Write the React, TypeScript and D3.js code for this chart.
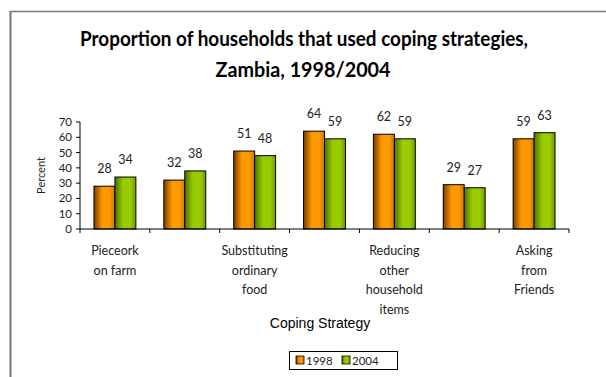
import React from "react";
import * as d3 from "d3";

const categories = [
  ["Pieceork", "on farm"],
  [],
  ["Substituting", "ordinary", "food"],
  [],
  ["Reducing", "other", "household", "items"],
  [],
  ["Asking", "from", "Friends"],
];
const series = ["1998", "2004"];
const values1998 = [28, 32, 51, 64, 62, 29, 59];
const values2004 = [34, 38, 48, 59, 59, 27, 63];
const yTicks = [0, 10, 20, 30, 40, 50, 60, 70];

export default function App() {
  const W = 606, H = 377;
  const left = 80, right = 569, top = 122, bottom = 229;
  const idx = categories.map((_, i) => i);
  const x0 = d3.scaleBand<number>().domain(idx).range([left, right]).paddingInner(0).paddingOuter(0);
  const bw = x0.bandwidth();
  const x1 = d3.scaleBand<string>().domain(series).range([bw * 0.2, bw * 0.8]);
  const y = d3.scaleLinear().domain([0, 70]).range([bottom, top]);
  const data = [values1998, values2004];
  const grads = ["gOrange", "gGreen"];
  const font = "Lato, 'Open Sans', sans-serif";
  return (
    <svg width={W} height={H} style={{ position: "absolute", left: 0, top: 0 }}>
      <defs>
        <linearGradient id="gOrange" x1="0" x2="1" y1="0" y2="0">
          <stop offset="0%" stopColor="#7a3c00" />
          <stop offset="40%" stopColor="#ff9900" />
          <stop offset="75%" stopColor="#ff9900" />
          <stop offset="100%" stopColor="#d07800" />
        </linearGradient>
        <linearGradient id="gGreen" x1="0" x2="1" y1="0" y2="0">
          <stop offset="0%" stopColor="#4d7300" />
          <stop offset="40%" stopColor="#99cc00" />
          <stop offset="75%" stopColor="#99cc00" />
          <stop offset="100%" stopColor="#6f9a00" />
        </linearGradient>
      </defs>
      <rect x={0} y={0} width={W} height={H} fill="#fff" />
      <line x1={10} y1={11.5} x2={W} y2={11.5} stroke="#777" strokeWidth={1.5} />
      <line x1={10.5} y1={11} x2={10.5} y2={H} stroke="#777" strokeWidth={2} />
      <text x={304} y={46} textAnchor="middle" fontFamily={font} fontWeight="bold" fontSize={21} fill="#000" textLength={448} lengthAdjust="spacingAndGlyphs">
        Proportion of households that used coping strategies,
      </text>
      <text x={303} y={77} textAnchor="middle" fontFamily={font} fontWeight="bold" fontSize={21} fill="#000" textLength={175} lengthAdjust="spacingAndGlyphs">
        Zambia, 1998/2004
      </text>
      {/* y axis */}
      <line x1={left} y1={top} x2={left} y2={bottom} stroke="#000" />
      {yTicks.map((t) => (
        <g key={t}>
          <line x1={left - 4} x2={left} y1={y(t)} y2={y(t)} stroke="#000" />
          <text x={left - 8} y={y(t) + 4} textAnchor="end" fontFamily={font} fontSize={11.5} fill="#222">
            {t}
          </text>
        </g>
      ))}
      <text transform={`translate(45,${(top + bottom) / 2}) rotate(-90)`} textAnchor="middle" fontFamily={font} fontSize={11} fill="#222">
        Percent
      </text>
      {/* bars */}
      {idx.map((i) => (
        <g key={i}>
          {series.map((s, j) => {
            const bx = (x0(i) as number) + (x1(s) as number);
            const v = data[j][i];
            return (
              <g key={s}>
                <rect x={bx} y={y(v)} width={x1.bandwidth()} height={bottom - y(v)} fill={`url(#${grads[j]})`} stroke="#000" strokeWidth={1} />
                <text x={bx + x1.bandwidth() / 2} y={y(v) - 13} textAnchor="middle" fontFamily={font} fontSize={12.5} fill="#222">
                  {v}
                </text>
              </g>
            );
          })}
        </g>
      ))}
      {/* x axis */}
      <line x1={left} y1={bottom} x2={right} y2={bottom} stroke="#000" />
      {d3.range(categories.length + 1).map((k) => {
        const xx = left + k * bw;
        return <line key={k} x1={xx} x2={xx} y1={bottom} y2={bottom + 4} stroke="#000" />;
      })}
      {categories.map((lines, i) =>
        lines.map((ln, k) => (
          <text key={`${i}-${k}`} x={(x0(i) as number) + bw / 2} y={255 + k * 19.5} textAnchor="middle" fontFamily={font} fontSize={12.5} fill="#222">
            {ln}
          </text>
        ))
      )}
      <text x={320} y={328} textAnchor="middle" fontFamily="'Liberation Sans', Arial, sans-serif" fontSize={14} fill="#000">
        Coping Strategy
      </text>
      {/* legend */}
      <rect x={289.5} y={351.5} width={108} height={18} fill="#fff" stroke="#000" />
      {series.map((s, j) => (
        <g key={s}>
          <rect x={296 + j * 46} y={356} width={8} height={8} fill={`url(#${grads[j]})`} stroke="#000" strokeWidth={0.8} />
          <text x={306 + j * 46} y={364.5} fontFamily={font} fontSize={11.5} fill="#222">
            {s}
          </text>
        </g>
      ))}
    </svg>
  );
}
